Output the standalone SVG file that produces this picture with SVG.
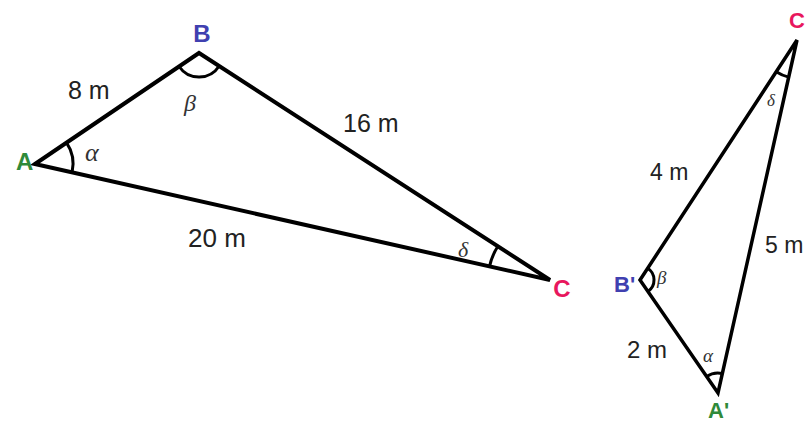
<svg xmlns="http://www.w3.org/2000/svg" width="805" height="425" viewBox="0 0 805 425">
<style>
.edge{fill:none;stroke:#000;stroke-linecap:round;stroke-linejoin:miter}
.big{stroke-width:4}
.small{stroke-width:3.5}
.arc{fill:none;stroke:#000;stroke-width:3}
.len{font-family:"Liberation Sans",Arial,sans-serif;fill:#222}
.vtx{font-family:"Liberation Sans",Arial,sans-serif;font-weight:bold}
.ga{fill:#2f8a3a}.gb{fill:#4040b0}.gc{fill:#e8175d}
.greek{font-family:"Liberation Serif","DejaVu Serif",serif;font-style:italic;fill:#333}
</style>
<rect width="805" height="425" fill="#fff"/>
<g id="connectors">
<path class="edge big" d="M35,164 L199,53 L550,280 Z"/>
<path class="edge small" d="M797,40 L640,280 L718,393 Z"/>
</g>
<g id="angle-marks">
<path class="arc" d="M66.5,142.7 A38,38 0 0 1 72.1,172.3"/>
<path class="arc" d="M179.1,66.5 A24,24 0 0 0 219.2,66"/>
<path class="arc" d="M489.5,266.4 A62,62 0 0 1 497.9,246.3"/>
<path class="arc" d="M776.2,71.8 A38,38 0 0 0 788.7,77.1"/>
<path class="arc" d="M647.7,268.3 A14,14 0 0 1 648,291.5"/>
<path class="arc" d="M706.6,376.5 A20,20 0 0 1 722.4,373.5"/>
</g>
<g id="node-A"><text class="vtx ga" x="16" y="170" font-size="24">A</text></g>
<g id="node-B"><text class="vtx gb" x="202" y="42" font-size="24" text-anchor="middle">B</text></g>
<g id="node-C"><text class="vtx gc" x="562" y="297" font-size="24" text-anchor="middle">C</text></g>
<g id="node-Cp"><text class="vtx gc" x="789" y="28" font-size="22">C</text></g>
<g id="node-Bp"><text class="vtx gb" x="614" y="292" font-size="22">B'</text></g>
<g id="node-Ap"><text class="vtx ga" x="708" y="418" font-size="22">A'</text></g>
<g id="labels">
<text class="len" x="68" y="99" font-size="25">8 m</text>
<text class="len" x="343" y="132" font-size="25">16 m</text>
<text class="len" x="188" y="247" font-size="26">20 m</text>
<text class="len" x="650" y="180" font-size="23">4 m</text>
<text class="len" x="765" y="253" font-size="23">5 m</text>
<text class="len" x="627" y="358" font-size="24">2 m</text>
<text class="greek" x="184" y="111" font-size="24">β</text>
<text class="greek" x="85" y="161" font-size="26">α</text>
<text class="greek" x="458" y="257" font-size="22">δ</text>
<text class="greek" x="657" y="284" font-size="19">β</text>
<text class="greek" x="703" y="362" font-size="19">α</text>
<text class="greek" x="767" y="106" font-size="17" font-style="normal">δ</text>
</g>
</svg>
